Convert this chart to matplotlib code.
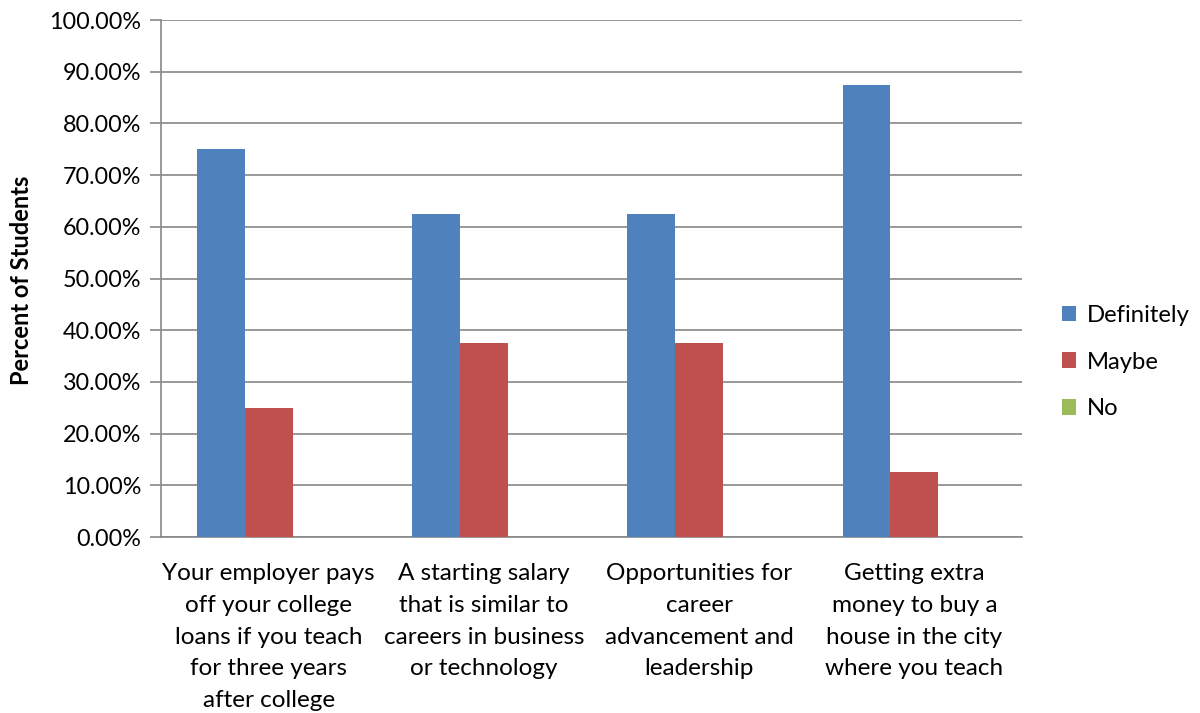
import numpy as np
import matplotlib.pyplot as plt
from matplotlib.ticker import FuncFormatter

categories = [
    "Your employer pays\noff your college\nloans if you teach\nfor three years\nafter college",
    "A starting salary\nthat is similar to\ncareers in business\nor technology",
    "Opportunities for\ncareer\nadvancement and\nleadership",
    "Getting extra\nmoney to buy a\nhouse in the city\nwhere you teach",
]
definitely = [75.0, 62.5, 62.5, 87.5]
maybe = [25.0, 37.5, 37.5, 12.5]
no = [0.0, 0.0, 0.0, 0.0]

series = [("Definitely", definitely, "#4F81BD"),
          ("Maybe", maybe, "#C0504D"),
          ("No", no, "#9BBB59")]

plt.rcParams['font.family'] = ['Lato', 'DejaVu Sans']

fig = plt.figure(figsize=(12, 7.13), dpi=100)
ax = fig.add_axes([0.1342, 0.2468, 0.7175, 0.7251])

x = np.arange(len(categories))
w = 1 / 4.5
for i, (name, vals, col) in enumerate(series):
    ax.bar(x + (i - 1) * w, vals, width=w, color=col, label=name, zorder=3)

ax.set_xlim(-0.5, len(categories) - 0.5)
ax.set_ylim(0, 100)
ax.set_yticks(np.arange(0, 101, 10))
ax.yaxis.set_major_formatter(FuncFormatter(lambda v, _: f"{v:.2f}%"))
ax.grid(axis='y', color='#888888', linewidth=1.2, zorder=0)

ax.set_xticks(x)
ax.set_xticklabels(categories, fontsize=17.5, linespacing=1.62, va='top')
ax.tick_params(axis='x', length=0, pad=19)
ax.tick_params(axis='y', labelsize=16.8, length=8, width=1.2, color='#888888', pad=6)

for side in ['top', 'right']:
    ax.spines[side].set_visible(False)
for side in ['left', 'bottom']:
    ax.spines[side].set_color('#888888')
    ax.spines[side].set_linewidth(1.2)

ax.set_ylabel("Percent of Students", fontsize=17, fontweight='bold')
ax.yaxis.set_label_coords(33 / 1200, 0.5, transform=fig.transFigure)
ax.yaxis.label.set_y(1 - 280 / 713)

fig.legend(loc='center left', bbox_to_anchor=(1052 / 1200, 1 - 362 / 713),
           frameon=False, fontsize=17.2, handlelength=0.62, handleheight=0.62,
           handletextpad=0.45, labelspacing=1.08, borderaxespad=0)

fig.savefig("out.png", dpi=100)
